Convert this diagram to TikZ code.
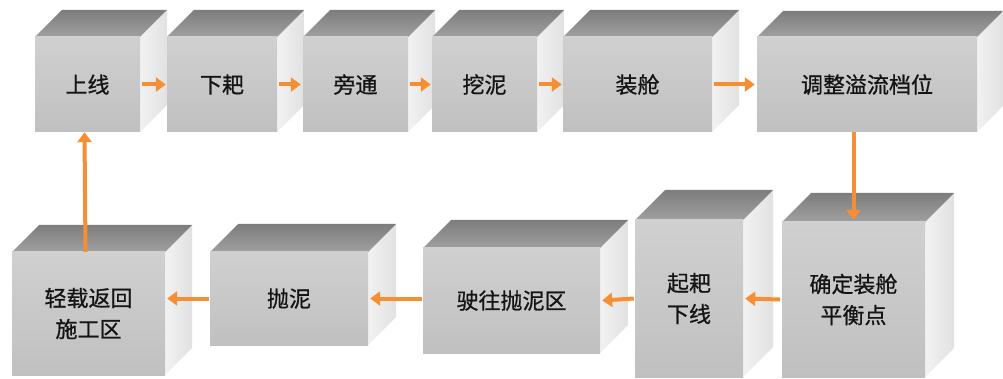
\documentclass[tikz,border=0pt]{standalone}
\usepackage{fontspec}
\setmainfont{Noto Sans CJK SC}[BoldFont=Noto Sans CJK SC, BoldFeatures={FakeBold=0.8}]
\usetikzlibrary{arrows.meta,calc}
\definecolor{arrowor}{RGB}{246,142,52}
\definecolor{frontA}{RGB}{208,208,208}
\definecolor{frontB}{RGB}{192,192,192}
\definecolor{topA}{RGB}{125,125,125}
\definecolor{topB}{RGB}{160,160,160}
\definecolor{sideA}{RGB}{242,242,242}
\definecolor{sideB}{RGB}{225,225,225}
\definecolor{txt}{RGB}{20,20,20}
\tikzset{
  boxface/.style={inner sep=0pt, top color=frontA, bottom color=frontB, draw=none,
    font=\fontsize{22}{31}\selectfont\bfseries, text=txt, align=center},
  topface/.style={top color=topA, bottom color=topB},
  sideface/.style={left color=sideA, right color=sideB},
  flow/.style={draw=arrowor, line width=4pt, -{Triangle[length=10pt,width=14pt]}}
}
% #1 name, #2 x1, #3 y1, #4 x2, #5 y2, #6 depth, #7 text
\newcommand\mycube[7]{%
  \path[sideface] (#4,#3) -- (#4+#6,#3-#6) -- (#4+#6,#5-#6) -- (#4,#5) -- cycle;
  \path[topface] (#2,#3) -- (#2+#6,#3-#6) -- (#4+#6,#3-#6) -- (#4,#3) -- cycle;
  \node[boxface, minimum width={(#4-#2)*1pt}, minimum height={(#5-#3)*1pt}]
     (#1) at ({(#2+#4)/2},{(#3+#5)/2}) {#7};
}
\begin{document}
\begin{tikzpicture}[x=1pt,y=-1pt]
\useasboundingbox (0,0) rectangle (1003,379);
% top row
\mycube{b1}{35}{37}{140}{132}{27}{上线}
\mycube{b2}{167}{37}{277}{132}{27}{下耙}
\mycube{b3}{303}{37}{408}{132}{27}{旁通}
\mycube{b4}{432}{37}{537}{132}{27}{挖泥}
\mycube{b5}{563}{37}{712}{132}{27}{装舱}
\mycube{b6}{757}{37}{977}{132}{26}{调整溢流档位}
% bottom row
\mycube{b7}{12}{252}{165}{375}{27}{轻载返回\\施工区}
\mycube{b8}{210}{252}{368}{345}{28}{抛泥}
\mycube{b9}{423}{248}{600}{353}{28}{驶往抛泥区}
\mycube{b10}{635}{220}{743}{377}{30}{起耙\\下线}
\mycube{b11}{782}{222}{925}{377}{29}{确定装舱\\平衡点}
% connectors
\draw[flow] ([xshift=2pt]b1.east) -- ([xshift=-1pt]b2.west);
\draw[flow] ([xshift=2pt]b2.east) -- ([xshift=-2pt]b3.west);
\draw[flow] ([xshift=2pt]b3.east) -- ([xshift=-1pt]b4.west);
\draw[flow] ([xshift=2pt]b4.east) -- ([xshift=-1pt]b5.west);
\draw[flow] ([xshift=2pt]b5.east) -- ([xshift=-2pt]b6.west);
\draw[flow] (b6.south -| b11.north) -- ([yshift=2pt]b11.north);
\draw[flow] ([xshift=-2pt]b11.west) -- ([xshift=2pt]b10.east);
\draw[flow] ([xshift=-1pt]b10.west) -- ([xshift=2pt]b9.east);
\draw[flow] ([xshift=-1pt]b9.west |- b8.east) -- ([xshift=2pt]b8.east);
\draw[flow] ([xshift=-1pt]b8.west) -- ([xshift=2pt]b7.east |- b8.east);
\draw[flow] ([xshift=-3pt]b7.north) -- ([xshift=-3pt]b1.south);
\end{tikzpicture}
\end{document}
